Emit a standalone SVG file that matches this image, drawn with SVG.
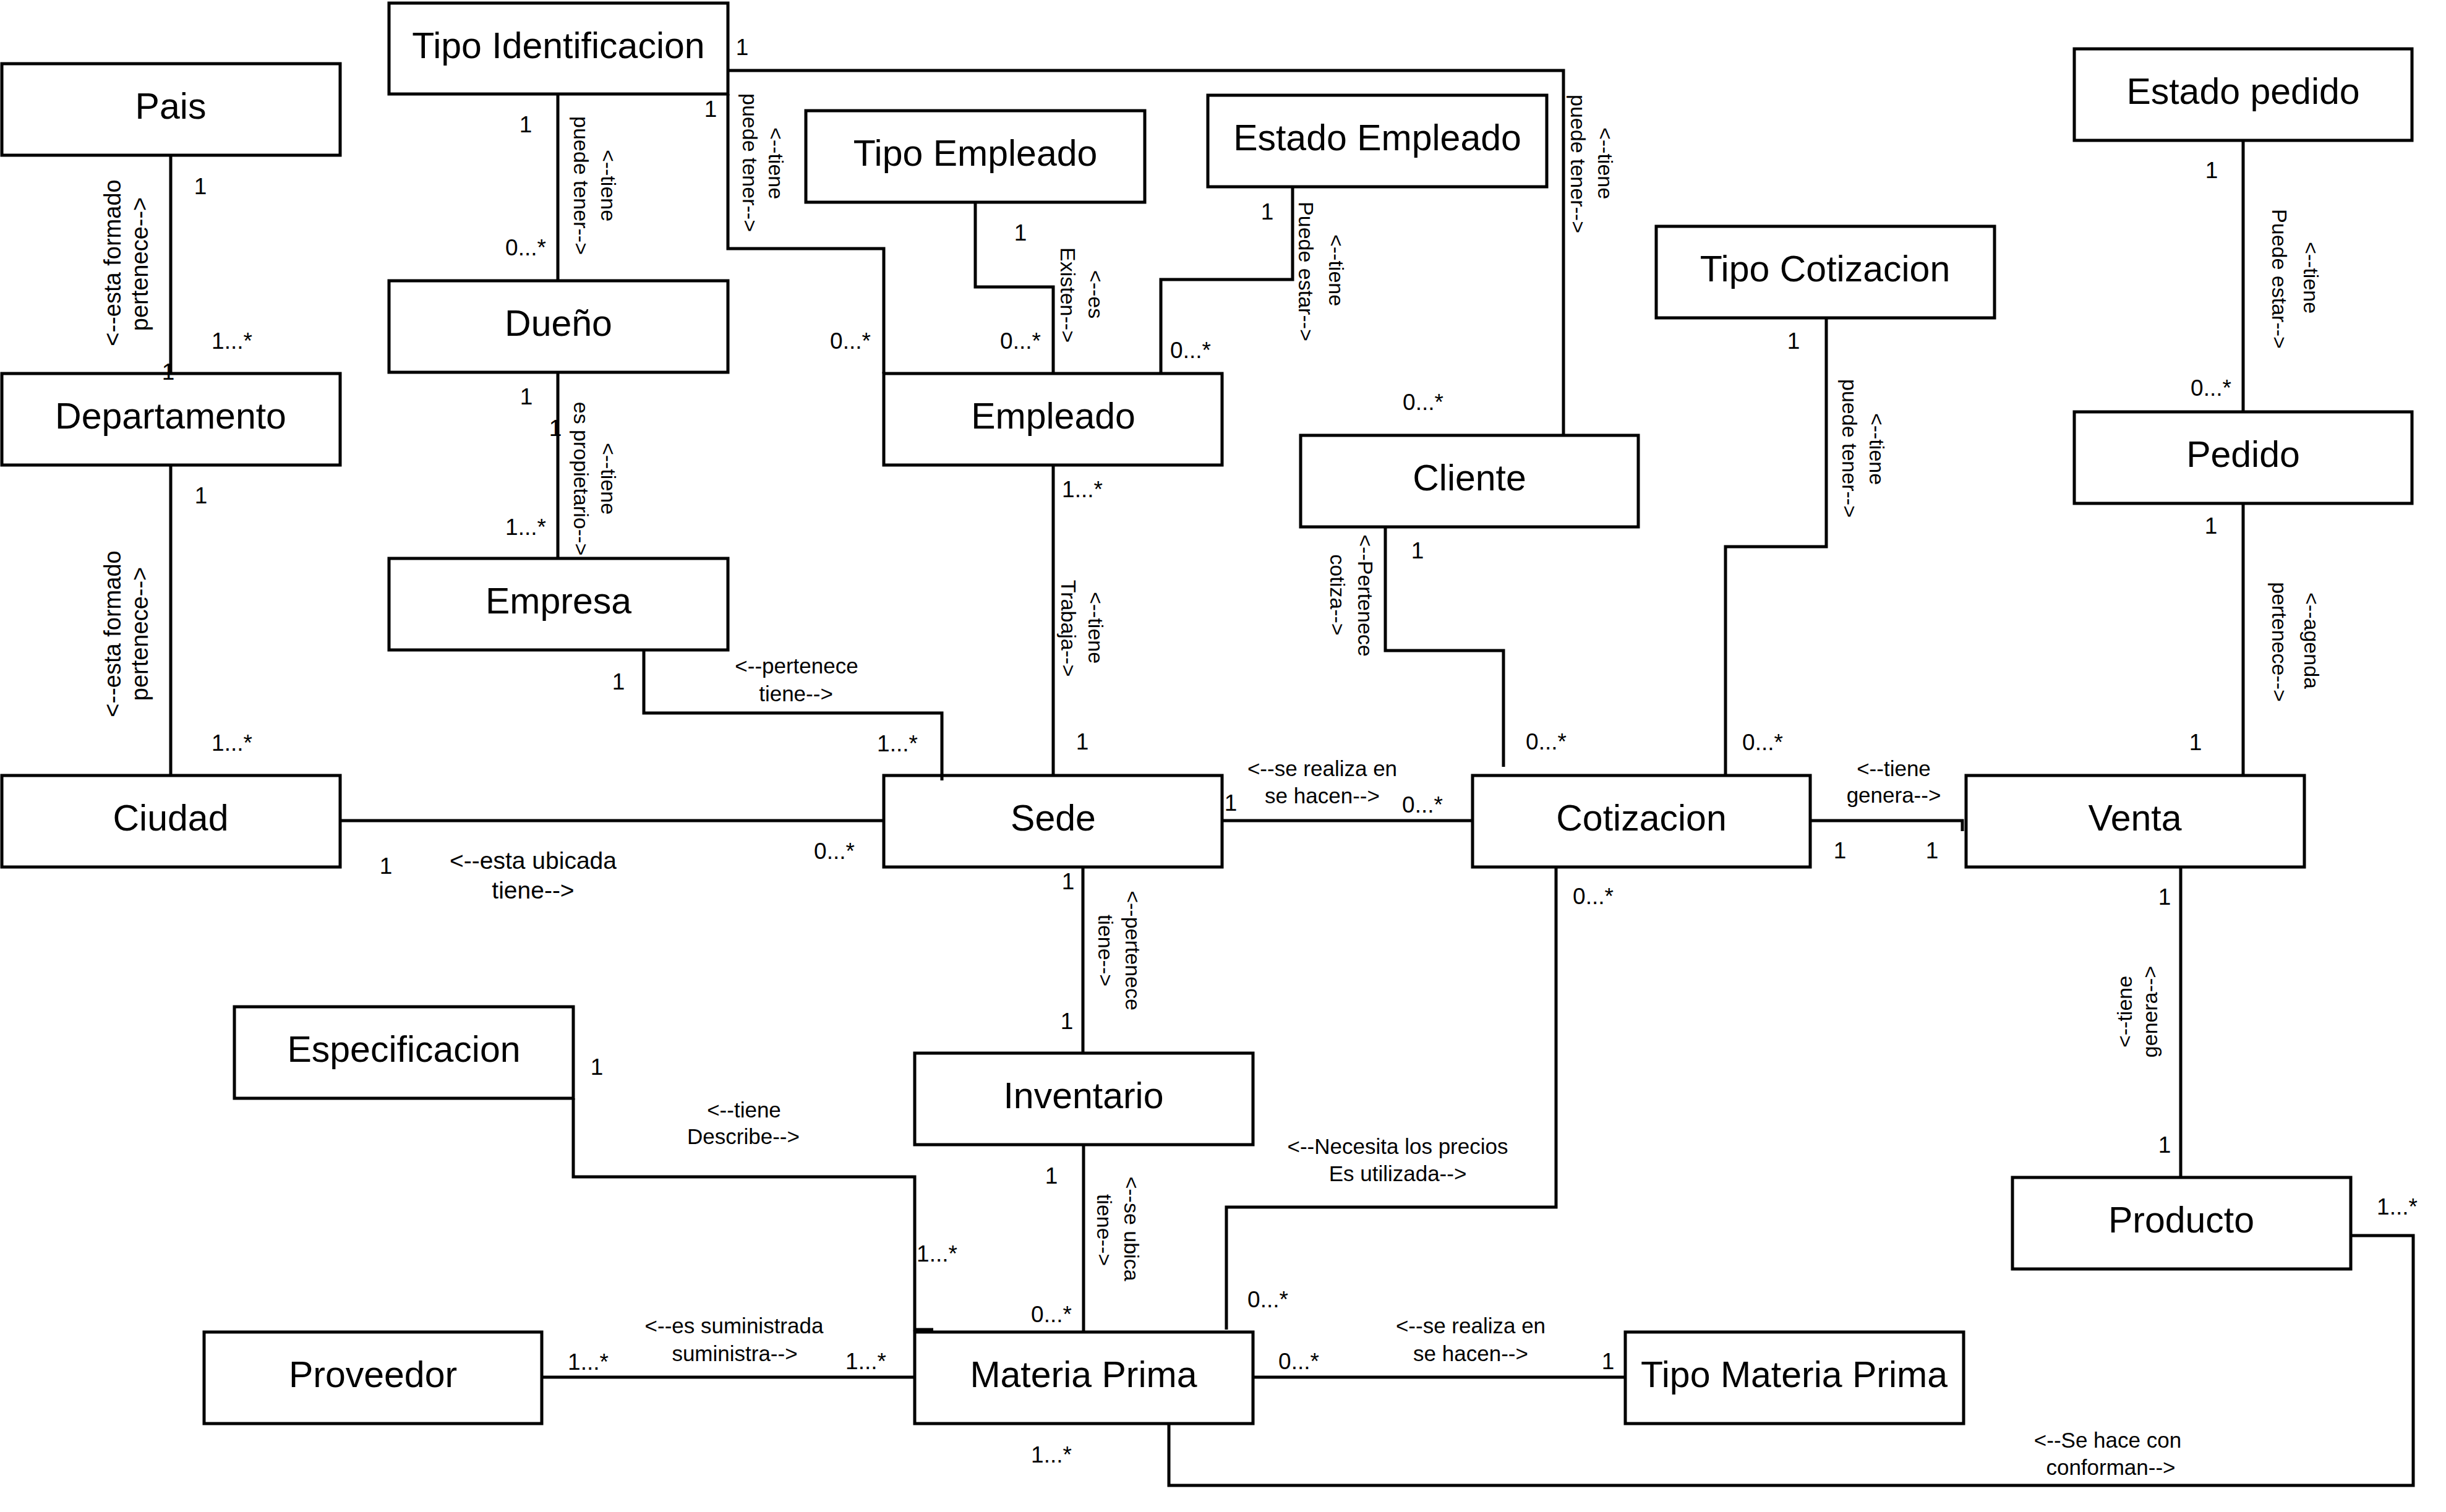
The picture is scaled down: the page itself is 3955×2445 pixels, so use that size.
<svg xmlns="http://www.w3.org/2000/svg" width="3955" height="2445" viewBox="0 0 3955 2445">
  <style>
    text { font-family: "Liberation Sans", Arial, Helvetica, sans-serif; fill: #000; }
    .node rect { fill: #fff; stroke: #000; stroke-width: 5; }
    .node text { font-size: 59px; text-anchor: middle; }
    .edge { fill: none; stroke: #000; stroke-width: 5; stroke-linejoin: miter; stroke-linecap: butt; }
    .mult { font-size: 37px; text-anchor: middle; }
    .lbl { font-size: 35px; text-anchor: middle; }
    .vlbl { font-size: 34px; text-anchor: middle; }
    .big { font-size: 38px; }
    .big39 { font-size: 39px; }
  </style>
  <rect x="0" y="0" width="3955" height="2445" fill="#fff"/>

  <!-- entities -->
  <g id="tipo-identificacion" class="node"><rect x="629" y="5" width="548" height="147"/><text x="903" y="94">Tipo Identificacion</text></g>
  <g id="pais" class="node"><rect x="3" y="103" width="547" height="148"/><text x="276" y="192">Pais</text></g>
  <g id="dueno" class="node"><rect x="629" y="454" width="548" height="148"/><text x="903" y="543">Dueño</text></g>
  <g id="departamento" class="node"><rect x="3" y="604" width="547" height="148"/><text x="276" y="693">Departamento</text></g>
  <g id="empresa" class="node"><rect x="629" y="903" width="548" height="148"/><text x="903" y="992">Empresa</text></g>
  <g id="ciudad" class="node"><rect x="3" y="1254" width="547" height="148"/><text x="276" y="1343">Ciudad</text></g>
  <g id="tipo-empleado" class="node"><rect x="1303" y="179" width="548" height="148"/><text x="1577" y="268">Tipo Empleado</text></g>
  <g id="estado-empleado" class="node"><rect x="1953" y="154" width="548" height="148"/><text x="2227" y="243">Estado Empleado</text></g>
  <g id="empleado" class="node"><rect x="1429" y="604" width="547" height="148"/><text x="1703" y="693">Empleado</text></g>
  <g id="cliente" class="node"><rect x="2103" y="704" width="546" height="148"/><text x="2376" y="793">Cliente</text></g>
  <g id="sede" class="node"><rect x="1429" y="1254" width="547" height="148"/><text x="1703" y="1343">Sede</text></g>
  <g id="cotizacion" class="node"><rect x="2381" y="1254" width="546" height="148"/><text x="2654" y="1343">Cotizacion</text></g>
  <g id="tipo-cotizacion" class="node"><rect x="2678" y="366" width="547" height="148"/><text x="2951" y="455">Tipo Cotizacion</text></g>
  <g id="estado-pedido" class="node"><rect x="3354" y="79" width="546" height="148"/><text x="3627" y="168">Estado pedido</text></g>
  <g id="pedido" class="node"><rect x="3354" y="666" width="546" height="148"/><text x="3627" y="755">Pedido</text></g>
  <g id="venta" class="node"><rect x="3179" y="1254" width="547" height="148"/><text x="3452" y="1343">Venta</text></g>
  <g id="especificacion" class="node"><rect x="379" y="1628" width="548" height="148"/><text x="653" y="1717">Especificacion</text></g>
  <g id="inventario" class="node"><rect x="1479" y="1703" width="547" height="148"/><text x="1752" y="1792">Inventario</text></g>
  <g id="proveedor" class="node"><rect x="330" y="2154" width="546" height="148"/><text x="603" y="2243">Proveedor</text></g>
  <g id="materia-prima" class="node"><rect x="1479" y="2154" width="547" height="148"/><text x="1752" y="2243">Materia Prima</text></g>
  <g id="tipo-materia-prima" class="node"><rect x="2628" y="2154" width="547" height="148"/><text x="2901" y="2243">Tipo Materia Prima</text></g>
  <g id="producto" class="node"><rect x="3254" y="1904" width="547" height="148"/><text x="3527" y="1993">Producto</text></g>

  <!-- relationships -->
  <g id="connectors">
    <g id="lines">
      <path class="edge" d="M276 251 V604"/>
      <path class="edge" d="M276 752 V1254"/>
      <path class="edge" d="M550 1327 H1429"/>
      <path class="edge" d="M902 152 V454"/>
      <path class="edge" d="M902 602 V903"/>
      <path class="edge" d="M1041 1051 V1153 H1523 V1262"/>
      <path class="edge" d="M1177 152 V402 H1429 V604"/>
      <path class="edge" d="M1177 114 H2528 V704"/>
      <path class="edge" d="M1577 327 V464 H1703 V604"/>
      <path class="edge" d="M2090 302 V452 H1877 V604"/>
      <path class="edge" d="M1703 752 V1254"/>
      <path class="edge" d="M2240 852 V1052 H2431 V1240"/>
      <path class="edge" d="M1976 1327 H2381"/>
      <path class="edge" d="M2953 514 V884 H2790 V1254"/>
      <path class="edge" d="M3627 227 V666"/>
      <path class="edge" d="M3627 814 V1254"/>
      <path class="edge" d="M2927 1327 H3173 V1344"/>
      <path class="edge" d="M3526 1402 V1904"/>
      <path class="edge" d="M1751 1402 V1703"/>
      <path class="edge" d="M1752 1851 V2154"/>
      <path class="edge" d="M927 1776 V1903 H1479 V2150 H1509"/>
      <path class="edge" d="M876 2227 H1479"/>
      <path class="edge" d="M2516 1402 V1952 H1983 V2150"/>
      <path class="edge" d="M2026 2227 H2628"/>
      <path class="edge" d="M3801 1998 H3902 V2402 H1890 V2302"/>
    </g>

    <!-- multiplicities -->
    <g id="multiplicities" class="mult">
      <text x="324" y="314">1</text>
      <text x="375" y="564">1...*</text>
      <text x="272" y="614">1</text>
      <text x="1200" y="89">1</text>
      <text x="850" y="214">1</text>
      <text x="850" y="413">0...*</text>
      <text x="1149" y="189">1</text>
      <text x="851" y="654">1</text>
      <text x="898" y="705">1</text>
      <text x="325" y="814">1</text>
      <text x="850" y="865">1...*</text>
      <text x="375" y="1214">1...*</text>
      <text x="1000" y="1115">1</text>
      <text x="624" y="1413">1</text>
      <text x="1650" y="389">1</text>
      <text x="1650" y="564">0...*</text>
      <text x="1375" y="564">0...*</text>
      <text x="2049" y="355">1</text>
      <text x="1925" y="579">0...*</text>
      <text x="2301" y="663">0...*</text>
      <text x="1750" y="804">1...*</text>
      <text x="2292" y="903">1</text>
      <text x="2500" y="1212">0...*</text>
      <text x="1750" y="1212">1</text>
      <text x="1451" y="1215">1...*</text>
      <text x="1349" y="1389">0...*</text>
      <text x="1990" y="1311">1</text>
      <text x="2300" y="1314">0...*</text>
      <text x="1727" y="1438">1</text>
      <text x="2576" y="1462">0...*</text>
      <text x="2850" y="1213">0...*</text>
      <text x="3575" y="863">1</text>
      <text x="3550" y="1213">1</text>
      <text x="2975" y="1388">1</text>
      <text x="3124" y="1388">1</text>
      <text x="3500" y="1463">1</text>
      <text x="3576" y="288">1</text>
      <text x="3575" y="640">0...*</text>
      <text x="2900" y="564">1</text>
      <text x="1725" y="1664">1</text>
      <text x="1700" y="1914">1</text>
      <text x="1515" y="2040">1...*</text>
      <text x="1700" y="2138">0...*</text>
      <text x="2050" y="2114">0...*</text>
      <text x="1400" y="2214">1...*</text>
      <text x="2100" y="2214">0...*</text>
      <text x="2600" y="2214">1</text>
      <text x="1700" y="2365">1...*</text>
      <text x="965" y="1738">1</text>
      <text x="951" y="2215">1...*</text>
      <text x="3500" y="1864">1</text>
      <text x="3876" y="1964">1...*</text>
    </g>

    <!-- role names, horizontal -->
    <g id="roles-horizontal" class="lbl">
      <text x="1288" y="1089">&lt;--pertenece</text>
      <text x="1287" y="1134">tiene--&gt;</text>
      <text class="big39" x="862" y="1405">&lt;--esta ubicada</text>
      <text class="big39" x="862" y="1453">tiene--&gt;</text>
      <text x="2138" y="1255">&lt;--se realiza en</text>
      <text x="2138" y="1299">se hacen--&gt;</text>
      <text x="3062" y="1255">&lt;--tiene</text>
      <text x="3062" y="1298">genera--&gt;</text>
      <text x="1203" y="1807">&lt;--tiene</text>
      <text x="1202" y="1850">Describe--&gt;</text>
      <text x="1187" y="2156">&lt;--es suministrada</text>
      <text x="1188" y="2201">suministra--&gt;</text>
      <text x="2260" y="1866">&lt;--Necesita los precios</text>
      <text x="2260" y="1910">Es utilizada--&gt;</text>
      <text x="2378" y="2156">&lt;--se realiza en</text>
      <text x="2378" y="2201">se hacen--&gt;</text>
      <text x="3408" y="2341">&lt;--Se hace con</text>
      <text x="3413" y="2385">conforman--&gt;</text>
    </g>

    <!-- role names, vertical -->
    <g id="roles-vertical" class="vlbl">
      <text class="big" transform="translate(195,425) rotate(-90)">&lt;--esta formado</text>
      <text class="big" transform="translate(239,427) rotate(-90)">pertenece--&gt;</text>
      <text class="big" transform="translate(195,1025) rotate(-90)">&lt;--esta formado</text>
      <text class="big" transform="translate(239,1025) rotate(-90)">pertenece--&gt;</text>
      <text transform="translate(972,300) rotate(90)">&lt;--tiene</text>
      <text transform="translate(928,300) rotate(90)">puede tener--&gt;</text>
      <text transform="translate(1243,264) rotate(90)">&lt;--tiene</text>
      <text transform="translate(1201,263) rotate(90)">puede tener--&gt;</text>
      <text transform="translate(972,774) rotate(90)">&lt;--tiene</text>
      <text transform="translate(928,774) rotate(90)">es propietario--&gt;</text>
      <text transform="translate(1760,476) rotate(90)">&lt;--es</text>
      <text transform="translate(1715,477) rotate(90)">Existen--&gt;</text>
      <text transform="translate(2149,437) rotate(90)">&lt;--tiene</text>
      <text transform="translate(2100,439) rotate(90)">Puede estar--&gt;</text>
      <text transform="translate(2584,264) rotate(90)">&lt;--tiene</text>
      <text transform="translate(2540,265) rotate(90)">puede tener--&gt;</text>
      <text transform="translate(1760,1015) rotate(90)">&lt;--tiene</text>
      <text transform="translate(1716,1016) rotate(90)">Trabaja--&gt;</text>
      <text transform="translate(2196,963) rotate(90)">&lt;--Pertenece</text>
      <text transform="translate(2151,962) rotate(90)">cotiza--&gt;</text>
      <text transform="translate(1820,1537) rotate(90)">&lt;--pertenece</text>
      <text transform="translate(1776,1537) rotate(90)">tiene--&gt;</text>
      <text transform="translate(1818,1987) rotate(90)">&lt;--se ubica</text>
      <text transform="translate(1774,1989) rotate(90)">tiene--&gt;</text>
      <text transform="translate(3023,726) rotate(90)">&lt;--tiene</text>
      <text transform="translate(2979,725) rotate(90)">puede tener--&gt;</text>
      <text transform="translate(3725,449) rotate(90)">&lt;--tiene</text>
      <text transform="translate(3674,451) rotate(90)">Puede estar--&gt;</text>
      <text transform="translate(3726,1036) rotate(90)">&lt;--agenda</text>
      <text transform="translate(3674,1038) rotate(90)">pertenece--&gt;</text>
      <text transform="translate(3447,1636) rotate(-90)">&lt;--tiene</text>
      <text transform="translate(3488,1636) rotate(-90)">genera--&gt;</text>
    </g>
  </g>
</svg>
